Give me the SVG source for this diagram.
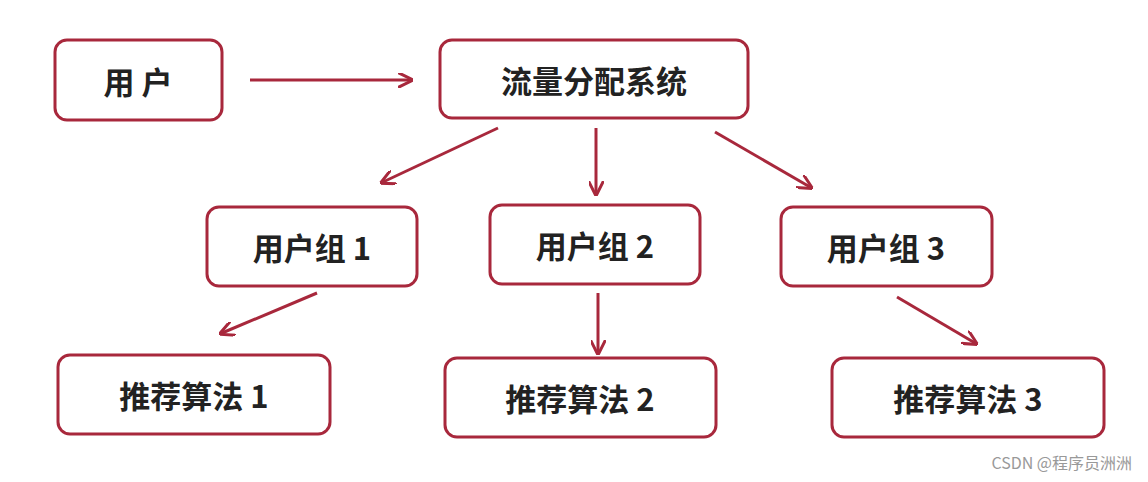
<svg xmlns="http://www.w3.org/2000/svg" width="1148" height="482" viewBox="0 0 1148 482">
<style>
.n{fill:#fff;stroke:#a8283c;stroke-width:3}
.t{font-family:"Noto Sans CJK SC","Liberation Sans",sans-serif;font-weight:bold;font-size:31px;fill:#222;text-anchor:middle;dominant-baseline:central}
.c line{stroke:#a8283c;stroke-width:3;marker-end:url(#a)}
</style>
<defs><marker id="a" viewBox="0 0 10 10" refX="8" refY="5" markerWidth="5" markerHeight="5" orient="auto"><path d="M0,0 L10,5 L0,10" fill="none" stroke="#a8283c" stroke-width="2"/></marker></defs>
<rect width="1148" height="482" fill="#fff"/>
<g id="n1"><rect class="n" x="55" y="40" width="167" height="80" rx="12"/><text class="t" x="138" y="80">用 户</text></g>
<g id="n2"><rect class="n" x="440" y="40" width="308" height="78" rx="12"/><text class="t" x="594" y="79">流量分配系统</text></g>
<g id="n3"><rect class="n" x="207" y="207" width="210" height="79" rx="12"/><text class="t" x="312" y="246">用户组 1</text></g>
<g id="n4"><rect class="n" x="490" y="205" width="210" height="79" rx="12"/><text class="t" x="595" y="244">用户组 2</text></g>
<g id="n5"><rect class="n" x="781" y="207" width="211" height="79" rx="12"/><text class="t" x="886" y="246">用户组 3</text></g>
<g id="n6"><rect class="n" x="58" y="355" width="272" height="79" rx="12"/><text class="t" x="194" y="394">推荐算法 1</text></g>
<g id="n7"><rect class="n" x="445" y="358" width="271" height="79" rx="12"/><text class="t" x="580" y="397">推荐算法 2</text></g>
<g id="n8"><rect class="n" x="832" y="358" width="272" height="79" rx="12"/><text class="t" x="968" y="397">推荐算法 3</text></g>
<g class="c">
<line x1="250" y1="80" x2="410" y2="80"/>
<line x1="498" y1="128" x2="383" y2="182"/>
<line x1="596" y1="128" x2="596" y2="193"/>
<line x1="715" y1="132" x2="810" y2="187"/>
<line x1="317" y1="293" x2="222" y2="333"/>
<line x1="598" y1="293" x2="598" y2="352"/>
<line x1="897" y1="297" x2="975" y2="343"/>
</g>
<text x="1132" y="469" style="font-family:'Noto Sans CJK SC','Liberation Sans',sans-serif;font-size:16px;fill:#999;text-anchor:end">CSDN @程序员洲洲</text>
</svg>
